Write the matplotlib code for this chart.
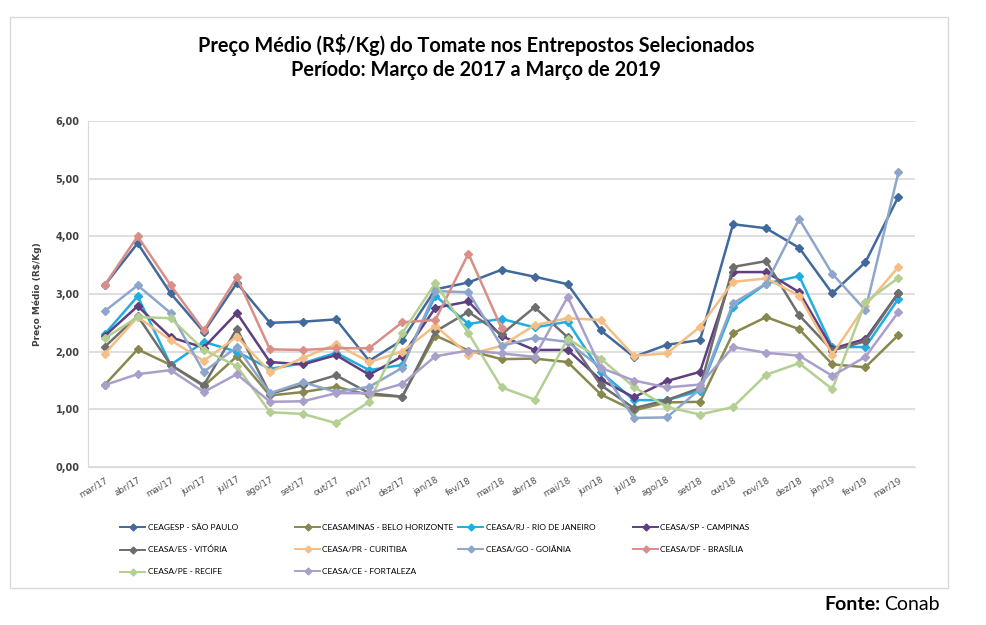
import numpy as np
import matplotlib
matplotlib.use("Agg")
import matplotlib.pyplot as plt
from matplotlib.patches import Rectangle

nan = np.nan

meses = ["mar/17", "abr/17", "mai/17", "jun/17", "jul/17", "ago/17", "set/17", "out/17",
         "nov/17", "dez/17", "jan/18", "fev/18", "mar/18", "abr/18", "mai/18", "jun/18",
         "jul/18", "ago/18", "set/18", "out/18", "nov/18", "dez/18", "jan/19", "fev/19", "mar/19"]

sao_paulo = [3.15, 3.88, 3.01, 2.34, 3.19, 2.50, 2.52, 2.56, 1.84, 2.20, 3.08, 3.20, 3.42,
             3.30, 3.17, 2.37, 1.91, 2.12, 2.20, 4.21, 4.14, 3.80, 3.01, 3.55, 4.69]
belo_horizonte = [1.42, 2.04, 1.77, 1.40, 1.92, 1.24, 1.30, 1.39, 1.25, 1.22, 2.28, 2.02, 1.87,
                  1.88, 1.82, 1.26, 0.98, 1.12, 1.13, 2.32, 2.60, 2.39, 1.78, 1.73, 2.29]
rio = [2.30, 2.96, 1.77, 2.17, 2.00, 1.70, 1.80, 1.98, 1.68, 1.77, 2.97, 2.48, 2.57,
       2.42, 2.52, 1.65, 1.16, 1.16, 1.32, 2.77, 3.18, 3.31, 2.08, 2.08, 2.92]
campinas = [2.27, 2.79, 2.25, 2.07, 2.67, 1.82, 1.78, 1.94, 1.60, 1.92, 2.76, 2.87, 2.27,
            2.03, 2.03, 1.51, 1.21, 1.49, 1.65, 3.38, 3.38, 3.03, 2.05, 2.22, 3.02]
vitoria = [2.08, 2.62, 1.77, 1.42, 2.40, 1.27, 1.42, 1.59, 1.28, 1.22, 2.35, 2.69, 2.30,
           2.77, 2.25, 1.42, 1.02, 1.16, 1.37, 3.47, 3.57, 2.63, 2.02, 2.18, 3.02]
curitiba = [1.96, 2.60, 2.20, 1.84, 2.26, 1.65, 1.89, 2.13, 1.82, 2.00, 2.45, 1.95, 2.10,
            2.46, 2.58, 2.55, 1.93, 1.97, 2.43, 3.21, 3.27, 2.97, 1.95, 2.80, 3.47]
goiania = [2.70, 3.15, 2.67, 1.65, 2.08, 1.28, 1.47, 1.30, 1.39, 1.72, 3.05, 3.03, 2.10,
           2.24, 2.17, 1.72, 0.85, 0.86, 1.35, 2.84, 3.18, 4.30, 3.35, 2.72, 5.11]
brasilia = [3.15, 4.00, 3.15, 2.37, 3.29, 2.04, 2.03, 2.06, 2.06, 2.51, 2.55, 3.70, 2.41,
            nan, nan, nan, nan, nan, nan, nan, nan, nan, nan, nan, nan]
recife = [2.23, 2.60, 2.58, 2.03, 1.75, 0.95, 0.92, 0.76, 1.13, 2.32, 3.19, 2.32, 1.38,
          1.17, 2.22, 1.88, 1.39, 1.04, 0.91, 1.04, 1.60, 1.80, 1.35, 2.86, 3.28]
fortaleza = [1.42, 1.61, 1.68, 1.30, 1.61, 1.13, 1.14, 1.28, 1.28, 1.44, 1.92, 2.02, 1.97,
             1.91, 2.95, 1.72, 1.50, 1.38, 1.43, 2.08, 1.98, 1.93, 1.58, 1.91, 2.69]

series = [
    ("CEAGESP - SÃO PAULO", sao_paulo, "#41699b"),
    ("CEASAMINAS - BELO HORIZONTE", belo_horizonte, "#88884e"),
    ("CEASA/RJ - RIO DE JANEIRO", rio, "#21ade0"),
    ("CEASA/SP - CAMPINAS", campinas, "#5e3f80"),
    ("CEASA/ES - VITÓRIA", vitoria, "#6e6e6e"),
    ("CEASA/PR - CURITIBA", curitiba, "#f5be84"),
    ("CEASA/GO - GOIÂNIA", goiania, "#8fa6cc"),
    ("CEASA/DF - BRASÍLIA", brasilia, "#d98e88"),
    ("CEASA/PE - RECIFE", recife, "#b3cf91"),
    ("CEASA/CE - FORTALEZA", fortaleza, "#aa9ecb"),
]

fonte = ["Lato", "DejaVu Sans"]

fig = plt.figure(figsize=(9.86, 6.25), dpi=100)
ax = fig.add_axes([88 / 986, 1 - 467 / 625, 827 / 986, 346 / 625])

x = np.arange(len(meses))
handles = {}
for nome, vals, cor in series:
    ln, = ax.plot(x, vals, color=cor, lw=1.8, marker="D", ms=4.4, label=nome)
    handles[nome] = ln

ax.set_xlim(-0.5, len(meses) - 0.5)
ax.set_ylim(0, 6)
ax.set_yticks(np.arange(0, 7, 1))
ax.set_yticklabels([("%.2f" % v).replace(".", ",") for v in np.arange(0, 7, 1)],
                   fontsize=7, fontweight="bold", color="#404040")
ax.set_xticks(x)
ax.set_xticklabels(meses, rotation=30, ha="right", rotation_mode="anchor", fontsize=6.3,
                   color="#505050")
ax.tick_params(length=0, pad=6)
ax.grid(axis="y", color="#d9d9d9", lw=1.2)
ax.set_axisbelow(True)
for s in ["top", "right"]:
    ax.spines[s].set_visible(False)
ax.spines["left"].set_color("#d9d9d9")
ax.spines["bottom"].set_color("#d9d9d9")
ax.set_ylabel("Preço Médio (R\\$/Kg)", fontsize=6.5, fontweight="bold", color="#404040",
              labelpad=10)

fig.text(476 / 986, 1 - 45 / 625, "Preço Médio (R\\$/Kg) do Tomate nos Entrepostos Selecionados",
         ha="center", va="center", fontsize=14.3, fontweight="bold", family=fonte)
fig.text(476 / 986, 1 - 70 / 625, "Período: Março de 2017 a Março de 2019",
         ha="center", va="center", fontsize=14.3, fontweight="bold", family=fonte)

# legend in 4 fixed-width columns, like the original
colunas = [
    (120, ["CEAGESP - SÃO PAULO", "CEASA/ES - VITÓRIA", "CEASA/PE - RECIFE"]),
    (295, ["CEASAMINAS - BELO HORIZONTE", "CEASA/PR - CURITIBA", "CEASA/CE - FORTALEZA"]),
    (458, ["CEASA/RJ - RIO DE JANEIRO", "CEASA/GO - GOIÂNIA"]),
    (633, ["CEASA/SP - CAMPINAS", "CEASA/DF - BRASÍLIA"]),
]
for xpos, nomes in colunas:
    leg = fig.legend([handles[n] for n in nomes], nomes, ncol=1, frameon=False,
                     loc="upper left", bbox_to_anchor=(xpos / 986, 1 - 524 / 625),
                     prop={"family": fonte, "size": 6.0}, handlelength=3.0,
                     labelspacing=1.8, handletextpad=0.3, borderpad=0, borderaxespad=0)
    for h in leg.legend_handles:
        h.set_markersize(3.5)
        h.set_linewidth(1.4)

fig.patches.append(Rectangle((10 / 986, 1 - 588 / 625), 938 / 986, 571 / 625,
                             transform=fig.transFigure, fill=False, ec="#d9d9d9", lw=1))

fig.text(881 / 986, 1 - 605 / 625, "Fonte:", ha="right", va="center", fontsize=14,
         fontweight="bold", family=fonte)
fig.text(940 / 986, 1 - 605 / 625, "Conab", ha="right", va="center", fontsize=14,
         family=fonte)

fig.savefig("out.png", dpi=100, facecolor="white")
